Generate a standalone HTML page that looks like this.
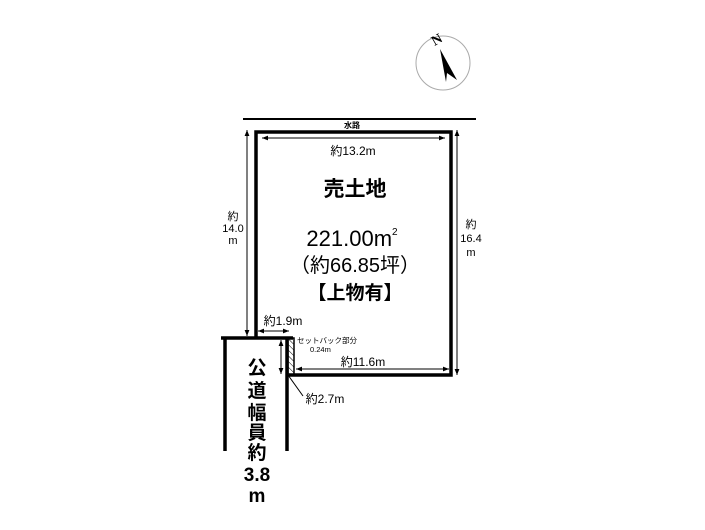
<!DOCTYPE html>
<html><head><meta charset="utf-8"><style>
body{margin:0;background:#fff}
text{font-family:"Liberation Sans","Noto Sans CJK JP",sans-serif;fill:#000}
</style></head><body>
<svg width="705" height="525" viewBox="0 0 705 525" xmlns="http://www.w3.org/2000/svg">
<defs>
<marker id="a" viewBox="0 0 10 10" refX="10" refY="5" markerWidth="6" markerHeight="6" orient="auto-start-reverse"><path d="M0,1L10,5L0,9z" fill="#000"/></marker>
<pattern id="h" width="4" height="4" patternUnits="userSpaceOnUse" patternTransform="rotate(-45)"><line x1="0" y1="0" x2="0" y2="4" stroke="#000" stroke-width="1"/></pattern>
</defs>
<circle cx="443" cy="63" r="27" fill="none" stroke="#aaa" stroke-width="1"/>
<path d="M440,49 L457,80 L447,73 L446,82 Z" fill="#000"/>
<text x="437" y="44" font-size="14" font-weight="bold" transform="rotate(-30 437 40)" text-anchor="middle" style="font-family:'Liberation Serif',serif">N</text>
<line x1="243" y1="119" x2="476" y2="119" stroke="#000" stroke-width="2"/>
<text x="352" y="128" font-size="8" text-anchor="middle" font-weight="bold">水路</text>
<polyline points="256,338 256,132 451,132 451,375 289,375" fill="none" stroke="#000" stroke-width="3.5"/>
<rect x="288" y="338" width="6" height="37" fill="url(#h)" stroke="#000" stroke-width="1.5"/>
<polyline points="221,338 293,338" fill="none" stroke="#000" stroke-width="3.5"/>
<line x1="225" y1="338" x2="225" y2="451" stroke="#000" stroke-width="3.5"/>
<line x1="287" y1="338" x2="287" y2="451" stroke="#000" stroke-width="3.5"/>
<line x1="262" y1="138" x2="445" y2="138" stroke="#000" stroke-width="1" marker-start="url(#a)" marker-end="url(#a)"/>
<text x="353" y="155" font-size="12" text-anchor="middle">約13.2m</text>
<line x1="247" y1="130" x2="247" y2="336" stroke="#000" stroke-width="1" marker-start="url(#a)" marker-end="url(#a)"/>
<text x="233" y="220" font-size="11" text-anchor="middle">約</text>
<text x="233" y="232" font-size="11" text-anchor="middle">14.0</text>
<text x="233" y="244" font-size="11" text-anchor="middle">m</text>
<line x1="457" y1="130" x2="457" y2="375" stroke="#000" stroke-width="1" marker-start="url(#a)" marker-end="url(#a)"/>
<text x="471" y="228" font-size="11" text-anchor="middle">約</text>
<text x="471" y="242" font-size="11" text-anchor="middle">16.4</text>
<text x="471" y="256" font-size="11" text-anchor="middle">m</text>
<line x1="258" y1="331" x2="289" y2="331" stroke="#000" stroke-width="1" marker-start="url(#a)" marker-end="url(#a)"/>
<text x="283" y="325" font-size="12" text-anchor="middle">約1.9m</text>
<line x1="296" y1="369" x2="449" y2="369" stroke="#000" stroke-width="1" marker-start="url(#a)" marker-end="url(#a)"/>
<text x="363" y="366" font-size="12" text-anchor="middle">約11.6m</text>
<line x1="281" y1="340" x2="281" y2="374" stroke="#000" stroke-width="1" marker-start="url(#a)" marker-end="url(#a)"/>
<line x1="288" y1="375" x2="303" y2="396" stroke="#000" stroke-width="1"/>
<text x="325" y="403" font-size="12" text-anchor="middle">約2.7m</text>
<text x="297" y="343" font-size="7.5">セットバック部分</text>
<text x="310" y="352" font-size="7.5">0.24m</text>
<text x="355" y="196" font-size="21" font-weight="bold" text-anchor="middle">売土地</text>
<text x="352" y="246" font-size="22" text-anchor="middle">221.00m<tspan font-size="10" dy="-11">2</tspan></text>
<text x="355" y="272" font-size="20" text-anchor="middle">（約66.85坪）</text>
<text x="355" y="299" font-size="19" font-weight="bold" text-anchor="middle">【上物有】</text>
<g font-size="19" font-weight="bold" text-anchor="middle">
<text x="257" y="374">公</text>
<text x="257" y="397">道</text>
<text x="257" y="419">幅</text>
<text x="257" y="439">員</text>
<text x="257" y="459">約</text>
<text x="257" y="481">3.8</text>
<text x="257" y="502">m</text>
</g>
</svg>
</body></html>
